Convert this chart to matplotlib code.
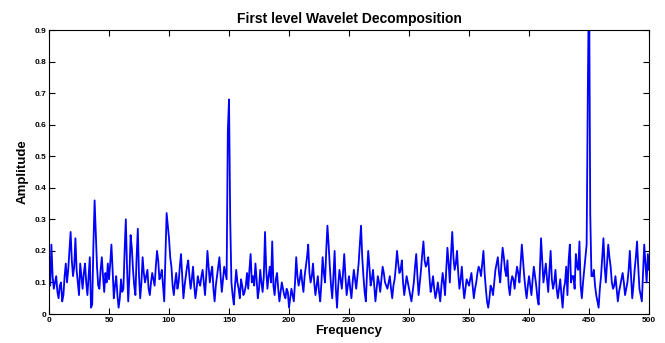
import numpy as np
import matplotlib.pyplot as plt

# -------------------------
# DATOS
# -------------------------
frecuencia = np.arange(0, 501)

# frecuencias pares: 0, 2, 4, ..., 500
par_000 = [0.13, 0.22, 0.08, 0.12, 0.05, 0.10, 0.06, 0.16, 0.14, 0.26, 0.12, 0.24, 0.10,
           0.16, 0.08, 0.16, 0.06, 0.18, 0.03, 0.36, 0.15, 0.08, 0.18, 0.07, 0.10]
par_050 = [0.11, 0.22, 0.05, 0.12, 0.02, 0.11, 0.08, 0.30, 0.04, 0.25, 0.14, 0.06, 0.27,
           0.05, 0.18, 0.10, 0.14, 0.06, 0.13, 0.09, 0.20, 0.11, 0.14, 0.04, 0.32]
par_100 = [0.24, 0.15, 0.06, 0.13, 0.10, 0.19, 0.05, 0.12, 0.17, 0.08, 0.15, 0.05, 0.12,
           0.09, 0.14, 0.06, 0.20, 0.10, 0.15, 0.04, 0.12, 0.18, 0.07, 0.15, 0.11]
par_150 = [0.68, 0.10, 0.03, 0.14, 0.08, 0.11, 0.06, 0.09, 0.08, 0.19, 0.12, 0.16, 0.05,
           0.14, 0.07, 0.26, 0.08, 0.15, 0.23, 0.06, 0.13, 0.04, 0.10, 0.06, 0.08]
par_200 = [0.02, 0.08, 0.04, 0.18, 0.09, 0.14, 0.07, 0.15, 0.22, 0.10, 0.16, 0.06, 0.12,
           0.04, 0.18, 0.10, 0.28, 0.15, 0.05, 0.20, 0.02, 0.14, 0.08, 0.19, 0.06]
par_250 = [0.12, 0.05, 0.14, 0.08, 0.16, 0.28, 0.12, 0.04, 0.20, 0.09, 0.14, 0.04, 0.12,
           0.07, 0.15, 0.10, 0.08, 0.12, 0.05, 0.11, 0.20, 0.13, 0.17, 0.06, 0.12]
par_300 = [0.08, 0.04, 0.10, 0.19, 0.06, 0.14, 0.23, 0.15, 0.18, 0.07, 0.12, 0.05, 0.10,
           0.04, 0.13, 0.06, 0.21, 0.10, 0.26, 0.14, 0.20, 0.08, 0.15, 0.05, 0.11]
par_350 = [0.09, 0.13, 0.05, 0.10, 0.15, 0.12, 0.20, 0.08, 0.02, 0.09, 0.06, 0.14, 0.18,
           0.10, 0.21, 0.14, 0.17, 0.06, 0.12, 0.08, 0.15, 0.10, 0.22, 0.12, 0.05]
par_400 = [0.12, 0.06, 0.15, 0.09, 0.03, 0.24, 0.10, 0.16, 0.07, 0.20, 0.08, 0.14, 0.05,
           0.11, 0.02, 0.10, 0.06, 0.22, 0.12, 0.08, 0.15, 0.23, 0.05, 0.14, 0.22]
par_450 = [1.10, 0.12, 0.14, 0.06, 0.02, 0.12, 0.24, 0.10, 0.22, 0.15, 0.08, 0.12, 0.04,
           0.09, 0.13, 0.06, 0.10, 0.20, 0.05, 0.14, 0.23, 0.08, 0.04, 0.22, 0.10, 0.14]

# frecuencias impares: 1, 3, 5, ..., 499
impar_000 = [0.09, 0.12, 0.10, 0.07, 0.09, 0.04, 0.12, 0.10, 0.20, 0.17, 0.15, 0.14, 0.06,
             0.12, 0.13, 0.10, 0.12, 0.02, 0.22, 0.25, 0.09, 0.14, 0.12, 0.13, 0.16]
impar_050 = [0.16, 0.14, 0.09, 0.06, 0.05, 0.07, 0.20, 0.15, 0.12, 0.21, 0.09, 0.18, 0.12,
             0.10, 0.13, 0.12, 0.08, 0.10, 0.11, 0.15, 0.17, 0.12, 0.09, 0.18, 0.28]
impar_100 = [0.18, 0.09, 0.10, 0.08, 0.15, 0.12, 0.09, 0.15, 0.12, 0.11, 0.09, 0.08, 0.10,
             0.12, 0.10, 0.12, 0.15, 0.13, 0.08, 0.09, 0.15, 0.12, 0.11, 0.13, 0.58]
impar_150 = [0.30, 0.06, 0.09, 0.10, 0.05, 0.09, 0.07, 0.13, 0.14, 0.10, 0.09, 0.11, 0.08,
             0.10, 0.12, 0.14, 0.12, 0.10, 0.09, 0.11, 0.08, 0.07, 0.08, 0.05, 0.07]
impar_200 = [0.05, 0.06, 0.10, 0.12, 0.11, 0.10, 0.12, 0.18, 0.13, 0.12, 0.10, 0.09, 0.07,
             0.10, 0.13, 0.20, 0.22, 0.09, 0.12, 0.08, 0.09, 0.11, 0.13, 0.12, 0.09]
impar_250 = [0.08, 0.10, 0.11, 0.12, 0.22, 0.18, 0.07, 0.13, 0.15, 0.11, 0.09, 0.08, 0.10,
             0.11, 0.13, 0.09, 0.10, 0.08, 0.09, 0.15, 0.16, 0.14, 0.10, 0.09, 0.10]
impar_300 = [0.06, 0.07, 0.15, 0.12, 0.10, 0.19, 0.17, 0.16, 0.12, 0.09, 0.08, 0.07, 0.07,
             0.09, 0.10, 0.14, 0.16, 0.19, 0.18, 0.16, 0.13, 0.11, 0.09, 0.08, 0.10]
impar_350 = [0.11, 0.09, 0.08, 0.13, 0.14, 0.16, 0.13, 0.04, 0.05, 0.08, 0.10, 0.16, 0.13,
             0.16, 0.18, 0.12, 0.09, 0.10, 0.11, 0.12, 0.13, 0.16, 0.17, 0.08, 0.09]
impar_400 = [0.09, 0.11, 0.12, 0.05, 0.14, 0.17, 0.13, 0.11, 0.14, 0.11, 0.10, 0.08, 0.08,
             0.06, 0.08, 0.15, 0.17, 0.10, 0.12, 0.19, 0.14, 0.09, 0.10, 0.18, 0.71]
impar_450 = [0.32, 0.12, 0.09, 0.04, 0.08, 0.18, 0.15, 0.16, 0.18, 0.10, 0.09, 0.08, 0.07,
             0.11, 0.10, 0.08, 0.14, 0.12, 0.09, 0.18, 0.15, 0.06, 0.13, 0.16, 0.19]

pares = par_000 + par_050 + par_100 + par_150 + par_200 + par_250 + par_300 + par_350 + par_400 + par_450
impares = (impar_000 + impar_050 + impar_100 + impar_150 + impar_200 +
           impar_250 + impar_300 + impar_350 + impar_400 + impar_450)

amplitud = np.empty(len(frecuencia))
amplitud[0::2] = pares
amplitud[1::2] = impares

xticks = np.arange(0, 501, 50)
yticks = np.arange(0, 0.91, 0.1)
ytick_labels = ['0', '0.1', '0.2', '0.3', '0.4', '0.5', '0.6', '0.7', '0.8', '0.9']

# -------------------------
# GRÁFICO
# -------------------------
plt.rcParams['font.family'] = ['Liberation Sans', 'DejaVu Sans']

fig = plt.figure(figsize=(6.65, 3.43), dpi=100)
ax = fig.add_axes([0.0737, 0.0845, 0.9023, 0.828])

ax.plot(frecuencia, amplitud, color='#0000ff', linewidth=1.3)

ax.set_xlim(0, 500)
ax.set_ylim(0, 0.9)
ax.set_xticks(xticks)
ax.set_xticklabels([str(t) for t in xticks], fontsize=6, fontweight='bold')
ax.set_yticks(yticks)
ax.set_yticklabels(ytick_labels, fontsize=6, fontweight='bold')
ax.tick_params(direction='in', length=4, width=0.8, top=True, right=True, pad=2)
for s in ax.spines.values():
    s.set_linewidth(0.8)

ax.set_title('First level Wavelet Decomposition', fontsize=10, fontweight='bold', pad=5)
ax.set_xlabel('Frequency', fontsize=9.5, fontweight='bold', labelpad=1)
ax.set_ylabel('Amplitude', fontsize=9.5, fontweight='bold', labelpad=4)

fig.savefig('out.png', dpi=100)
